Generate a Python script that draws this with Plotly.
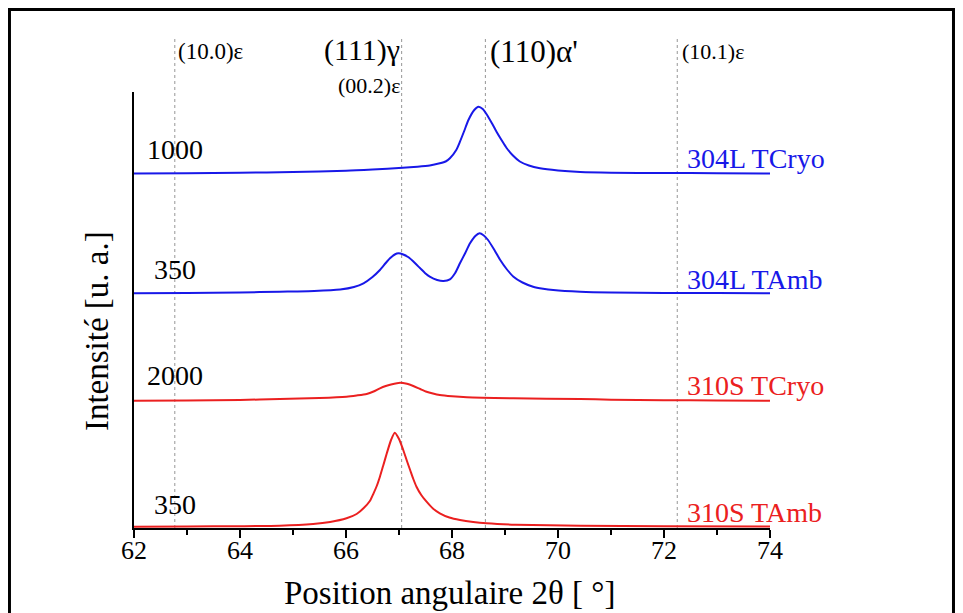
import plotly.graph_objects as go

# ---- data ----
x_304L_TCryo = [62.0, 63.0, 64.0, 65.0, 66.0, 66.5, 67.07, 67.35, 67.58, 67.77, 67.88, 67.96, 68.08,
                68.15, 68.23, 68.31, 68.42, 68.50, 68.58, 68.65, 68.75, 68.84, 68.94, 69.03, 69.15,
                69.28, 69.45, 69.66, 70.0, 70.42, 71.0, 72.0, 73.0, 74.0]
y_304L_TCryo = [354.5, 354.8, 355.3, 356.0, 357.2, 358.5, 360.3, 361.3, 362.5, 364.7, 366.5, 369.7, 378.0,
                386.3, 397.0, 408.0, 418.0, 421.3, 419.0, 414.0, 405.0, 396.3, 387.5, 380.0, 372.5,
                366.5, 362.5, 359.7, 357.5, 356.0, 355.3, 355.0, 354.8, 354.5]

x_304L_TAmb = [62.0, 63.0, 64.0, 64.75, 65.4, 65.89, 66.15, 66.33, 66.5, 66.64, 66.75, 66.83, 66.92,
               66.99, 67.08, 67.18, 67.3, 67.40, 67.5, 67.58, 67.72, 67.84, 67.96, 68.06, 68.15,
               68.25, 68.34, 68.44, 68.52, 68.60, 68.68, 68.8, 68.91, 69.03, 69.16, 69.33, 69.53,
               69.72, 69.91, 70.42, 71.0, 72.0, 73.0, 74.0]
y_304L_TAmb = [234.7, 235.0, 235.5, 236.3, 237.0, 238.5, 241.0, 244.7, 251.0, 258.0, 265.0, 269.7, 273.5,
               274.7, 273.5, 270.7, 265.0, 259.7, 254.5, 251.3, 248.0, 247.0, 248.7, 255.0, 264.7,
               275.0, 284.7, 292.0, 294.7, 292.5, 288.0, 278.0, 268.0, 259.0, 251.3, 245.5, 241.3,
               239.3, 238.0, 236.3, 235.5, 235.0, 235.0, 234.8]

x_310S_TCryo = [62.0, 63.0, 64.0, 64.75, 65.5, 66.01, 66.2, 66.39, 66.52, 66.64, 66.75, 66.85, 67.02,
                67.15, 67.27, 67.4, 67.52, 67.64, 67.77, 68.0, 68.28, 69.16, 70.42, 71.0, 72.0, 73.0,
                74.0]
y_310S_TCryo = [127.3, 127.5, 128.0, 129.0, 130.0, 131.3, 132.5, 134.0, 136.5, 139.7, 142.0, 143.5, 145.3,
                144.2, 142.0, 139.0, 136.3, 134.5, 133.0, 131.7, 130.7, 129.7, 129.0, 128.3, 127.8, 127.5,
                127.3]

x_310S_TAmb = [62.0, 63.0, 64.0, 64.75, 65.38, 65.7, 66.01, 66.2, 66.33, 66.45, 66.52, 66.58, 66.64,
               66.7, 66.77, 66.85, 66.92, 67.0, 67.08, 67.15, 67.21, 67.27, 67.33, 67.42, 67.52,
               67.64, 67.77, 67.95, 68.15, 68.4, 68.65, 69.2, 70.42, 72.0, 74.0]
y_310S_TAmb = [1.3, 1.5, 1.8, 2.3, 4.0, 6.0, 9.7, 14.0, 19.7, 27.0, 34.7, 42.0, 51.3,
               62.0, 74.7, 88.0, 95.3, 89.0, 78.0, 67.0, 58.0, 49.0, 41.3, 33.0, 26.3,
               19.5, 14.7, 10.5, 8.0, 6.0, 4.7, 3.3, 2.3, 1.7, 1.5]

series_names = ["304L TCryo", "304L TAmb", "310S TCryo", "310S TAmb"]
count_labels = ["1000", "350", "2000", "350"]
peak_positions = [62.77, 67.05, 68.63, 72.25]
peak_labels = ["(10.0)ε", "(111)γ", "(00.2)ε", "(110)α'", "(10.1)ε"]
x_ticks = [62, 64, 66, 68, 70, 72, 74]

BLUE = "rgb(24,24,232)"
RED = "rgb(235,32,32)"
FONT = "Liberation Serif"

fig = go.Figure()
for xs, ys, col in [(x_304L_TCryo, y_304L_TCryo, BLUE), (x_304L_TAmb, y_304L_TAmb, BLUE),
                    (x_310S_TCryo, y_310S_TCryo, RED), (x_310S_TAmb, y_310S_TAmb, RED)]:
    fig.add_trace(go.Scatter(x=xs, y=ys, mode="lines",
                             line=dict(color=col, width=2, shape="spline", smoothing=0.6),
                             showlegend=False, hoverinfo="skip"))

# dotted reference lines
for p in peak_positions:
    fig.add_shape(type="line", xref="x", yref="paper", x0=p, x1=p, y0=0, y1=1.124,
                  line=dict(color="rgb(150,150,150)", width=1, dash="dot"), layer="below")

# outer frame
fig.add_shape(type="rect", xref="paper", yref="paper", x0=-0.1958, x1=1.2885, y0=-0.3, y1=1.1892,
              line=dict(color="black", width=3))

ann = []
# count labels (left)
for lab, yv in zip(count_labels, [379, 259, 153, 24]):
    ann.append(dict(x=62.77, y=yv, text=lab, xanchor="center", yanchor="middle",
                    font=dict(size=28, color="black", family=FONT)))
# series labels (right)
for lab, yv, col in zip(series_names, [370, 249, 143, 16], [BLUE, BLUE, RED, RED]):
    ann.append(dict(x=72.4, y=yv, text=lab, xanchor="left", yanchor="middle",
                    font=dict(size=28, color=col, family=FONT)))
# peak labels (top)
ann.append(dict(x=62.8, y=1.092, yref="paper", text=peak_labels[0], xanchor="left", yanchor="middle",
                font=dict(size=23, color="black", family=FONT)))
ann.append(dict(x=67.05, y=1.096, yref="paper", text=peak_labels[1], xanchor="right", yanchor="middle",
                font=dict(size=30, color="black", family=FONT)))
ann.append(dict(x=67.05, y=1.016, yref="paper", text=peak_labels[2], xanchor="right", yanchor="middle",
                font=dict(size=22, color="black", family=FONT)))
ann.append(dict(x=68.68, y=1.092, yref="paper", text=peak_labels[3], xanchor="left", yanchor="middle",
                font=dict(size=31, color="black", family=FONT)))
ann.append(dict(x=72.3, y=1.092, yref="paper", text=peak_labels[4], xanchor="left", yanchor="middle",
                font=dict(size=22, color="black", family=FONT)))
# axis titles
ann.append(dict(xref="paper", yref="paper", x=0.496, y=-0.149, text="Position angulaire 2θ [ °]",
                xanchor="center", yanchor="middle",
                font=dict(size=33, color="black", family=FONT)))
ann.append(dict(xref="paper", yref="paper", x=-0.058, y=0.452, text="Intensité [u. a.]",
                textangle=-90, xanchor="center", yanchor="middle",
                font=dict(size=33, color="black", family=FONT)))
for a in ann:
    a.setdefault("showarrow", False)
    a.setdefault("xref", "x")
    a.setdefault("yref", "y")

fig.update_layout(
    width=947, height=605,
    margin=dict(l=126, r=185, t=84, b=85),
    paper_bgcolor="white", plot_bgcolor="white",
    annotations=ann,
    xaxis=dict(range=[62, 74], tickvals=x_ticks, ticktext=[str(t) for t in x_ticks],
               showgrid=False, zeroline=False, showline=True, linecolor="black", linewidth=1.5,
               ticks="outside", ticklen=8, tickwidth=1.5, tickcolor="black",
               ticklabelstandoff=-10,
               minor=dict(dtick=1, ticks="outside", ticklen=5, tickwidth=1.5, tickcolor="black"),
               tickfont=dict(size=26, color="black", family=FONT)),
    yaxis=dict(range=[0, 436], showgrid=False, zeroline=False, showline=True, linecolor="black",
               linewidth=1.5, showticklabels=False, ticks=""),
)

fig.write_html("out.html")
